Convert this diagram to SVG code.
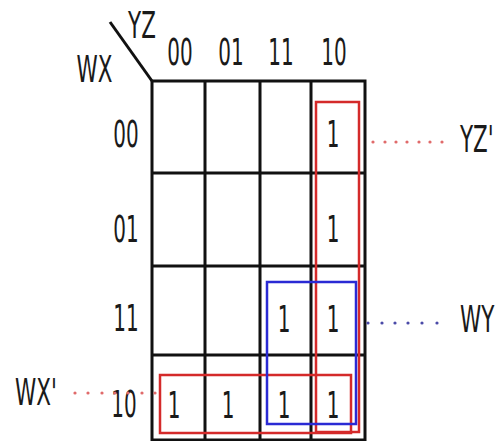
<svg xmlns="http://www.w3.org/2000/svg" width="499" height="441" viewBox="0 0 499 441">
<style>
.t{font-family:"DejaVu Sans",sans-serif;font-size:37px;fill:#1a1a1a}
.m{text-anchor:middle}
.g{stroke:#111;stroke-width:3;fill:none}
.r{stroke:#d42a2a;stroke-width:2.5;fill:none}
.b{stroke:#2a2ad4;stroke-width:2.5;fill:none}
.rd{fill:#e06a6a}
.bd{fill:#4a4aa8}
</style>
<rect width="499" height="441" fill="#fff"/>
<g id="grid">
<line class="g" x1="110" y1="22" x2="152" y2="81"/>
<rect class="g" x="152" y="81" width="213" height="359"/>
<line class="g" x1="205" y1="81" x2="205" y2="440"/>
<line class="g" x1="260" y1="81" x2="260" y2="440"/>
<line class="g" x1="311" y1="81" x2="311" y2="440"/>
<line class="g" x1="152" y1="173" x2="365" y2="173"/>
<line class="g" x1="152" y1="266" x2="365" y2="266"/>
<line class="g" x1="152" y1="355" x2="365" y2="355"/>
</g>
<g id="headers">
<text class="t m" transform="translate(142,38) scale(0.58,1)">YZ</text>
<text class="t m" transform="translate(94.5,82) scale(0.58,1)">WX</text>
<text class="t m" transform="translate(180,65) scale(0.54,1)">00</text>
<text class="t m" transform="translate(231,65) scale(0.54,1)">01</text>
<text class="t m" transform="translate(281,65) scale(0.54,1)">11</text>
<text class="t m" transform="translate(334,65) scale(0.54,1)">10</text>
<text class="t m" transform="translate(126,147) scale(0.54,1)">00</text>
<text class="t m" transform="translate(126,242) scale(0.54,1)">01</text>
<text class="t m" transform="translate(126,331) scale(0.54,1)">11</text>
<text class="t m" transform="translate(124,417) scale(0.54,1)">10</text>
</g>
<g id="cells">
<text class="t m" transform="translate(333,147) scale(0.54,1)">1</text>
<text class="t m" transform="translate(333,242) scale(0.54,1)">1</text>
<text class="t m" transform="translate(284,332) scale(0.54,1)">1</text>
<text class="t m" transform="translate(333,332) scale(0.54,1)">1</text>
<text class="t m" transform="translate(174,418) scale(0.54,1)">1</text>
<text class="t m" transform="translate(228,418) scale(0.54,1)">1</text>
<text class="t m" transform="translate(284,418) scale(0.54,1)">1</text>
<text class="t m" transform="translate(333,418) scale(0.54,1)">1</text>
</g>
<g id="group-yz">
<rect class="r" x="316" y="102" width="43" height="330"/>
</g>
<g id="group-wx">
<rect class="r" x="160" y="375" width="191" height="58"/>
</g>
<g id="group-wy">
<rect class="b" x="267" y="282" width="89" height="142"/>
</g>
<g id="connectors">
<g class="rd">
<circle cx="373" cy="142" r="1.6"/><circle cx="385" cy="142" r="1.6"/><circle cx="396" cy="142" r="1.6"/><circle cx="407" cy="142" r="1.6"/><circle cx="419" cy="142" r="1.6"/><circle cx="430" cy="142" r="1.6"/><circle cx="442" cy="142" r="1.6"/>
<circle cx="75" cy="393" r="1.6"/><circle cx="88" cy="393" r="1.6"/><circle cx="102" cy="393" r="1.6"/><circle cx="115" cy="393" r="1.6"/><circle cx="128" cy="393" r="1.6"/><circle cx="142" cy="393" r="1.6"/><circle cx="155" cy="393" r="1.6"/>
</g>
<g class="bd">
<circle cx="368" cy="323" r="1.6"/><circle cx="382" cy="323" r="1.6"/><circle cx="395" cy="323" r="1.6"/><circle cx="408" cy="323" r="1.6"/><circle cx="422" cy="323" r="1.6"/><circle cx="437" cy="323" r="1.6"/>
</g>
</g>
<g id="label-yz">
<text class="t" transform="translate(460,152) scale(0.58,1)">YZ'</text>
</g>
<g id="label-wy">
<text class="t" transform="translate(460,332) scale(0.58,1)">WY</text>
</g>
<g id="label-wx">
<text class="t" transform="translate(15,405) scale(0.58,1)">WX'</text>
</g>
</svg>
